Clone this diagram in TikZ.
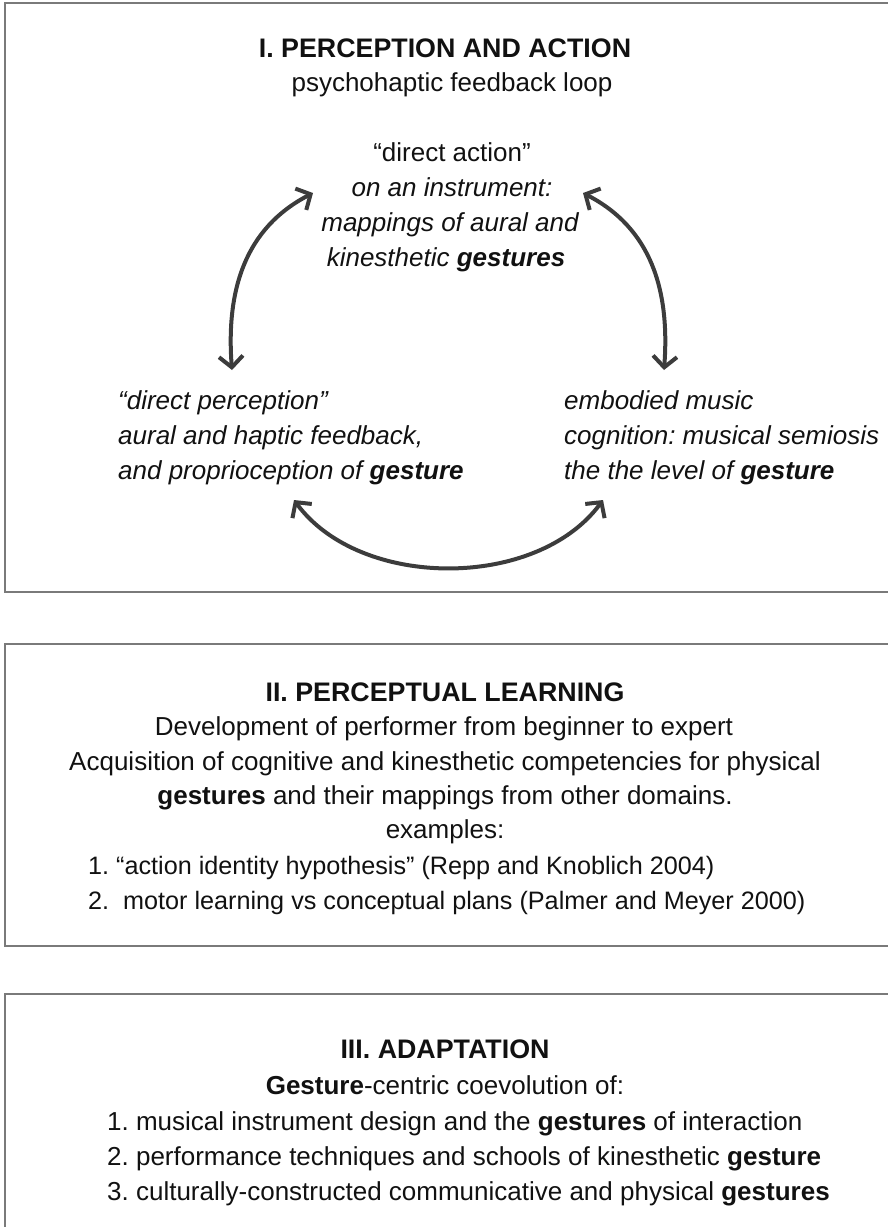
\documentclass[tikz,border=0pt]{standalone}
\usepackage{fontspec}
\setmainfont{Liberation Sans}
\usetikzlibrary{arrows.meta}
\definecolor{boxgray}{HTML}{7A7A7A}
\definecolor{arrowgray}{HTML}{3C3C3C}
\definecolor{inkblack}{HTML}{111111}
\frenchspacing
\begin{document}
\begin{tikzpicture}[x=1pt,y=-1pt,
  txt/.style={inner sep=0pt,anchor=base,text=inkblack,font=\fontsize{26}{35}\selectfont},
  ltxt/.style={txt,anchor=base west},
  ntxt/.style={ltxt,font=\fontsize{25.2}{35}\selectfont},
  ttl/.style={txt,font=\fontsize{26.8}{35}\selectfont\bfseries},
  frame/.style={draw=boxgray,line width=2pt},
  loop/.style={draw=arrowgray,line width=4pt,
    {Straight Barb[length=11pt,width=24pt]}-{Straight Barb[length=11pt,width=24pt]}}]
\useasboundingbox (0,0) rectangle (888,1227);
\clip (0,0) rectangle (888,1227);
% frames
\draw[frame] (5,3) rectangle (900,592);
\draw[frame] (5,644) rectangle (900,946);
\draw[frame] (5,994) rectangle (900,1240);
% box I
\node[ttl] (t1) at (445,57) {I. PERCEPTION AND ACTION};
\node[txt] (t2) at (452,91) {psychohaptic feedback loop};
\node[txt] (a1) at (452,161) {“direct action”};
\node[txt] (a2) at (452,196) {\itshape on an instrument:};
\node[txt] (a3) at (450,231) {\itshape mappings of aural and};
\node[txt] (a4) at (446,266) {\itshape kinesthetic \textbf{gestures}};
\node[ltxt] (b1) at (118,409) {\itshape “direct perception”};
\node[ltxt] (b2) at (118,444) {\itshape aural and haptic feedback,};
\node[ltxt] (b3) at (118,479) {\itshape and proprioception of \textbf{gesture}};
\node[ltxt] (c1) at (564,409) {\itshape embodied music};
\node[ltxt] (c2) at (564,444) {\itshape cognition: musical semiosis};
\node[ltxt] (c3) at (564,479) {\itshape the the level of \textbf{gesture}};
% arrow end points
\coordinate (pL) at (232,370);
\coordinate (pTL) at (313,193);
\coordinate (pTR) at (583,193);
\coordinate (pR) at (664,370);
\coordinate (pBL) at (294,500);
\coordinate (pBR) at (603,500);
\draw[loop] (pL) .. controls (226,290) and (245,228) .. (pTL);
\draw[loop] (pR) .. controls (670,290) and (651,228) .. (pTR);
\draw[loop] (pBL) .. controls (360,590) and (537,590) .. (pBR);
% box II
\node[ttl] (d1) at (445,701) {II. PERCEPTUAL LEARNING};
\node[txt] (d2) at (444,735) {Development of performer from beginner to expert};
\node[txt] (d3) at (445,770) {Acquisition of cognitive and kinesthetic competencies for physical};
\node[txt] (d4) at (445,804) {\textbf{gestures} and their mappings from other domains.};
\node[txt] (d5) at (445,838) {examples:};
\node[ntxt] (d6) at (88,874) {1. “action identity hypothesis” (Repp and Knoblich 2004)};
\node[ntxt] (d7) at (88,909) {2.\ \ motor learning vs conceptual plans (Palmer and Meyer 2000)};
% box III
\node[ttl] (e1) at (445,1058) {III. ADAPTATION};
\node[txt] (e2) at (445,1094) {\textbf{Gesture}-centric coevolution of:};
\node[ltxt] (e3) at (107,1130) {1. musical instrument design and the \textbf{gestures} of interaction};
\node[ltxt] (e4) at (107,1165) {2. performance techniques and schools of kinesthetic \textbf{gesture}};
\node[ltxt] (e5) at (107,1200) {3. culturally-constructed communicative and physical \textbf{gestures}};
\end{tikzpicture}
\end{document}
